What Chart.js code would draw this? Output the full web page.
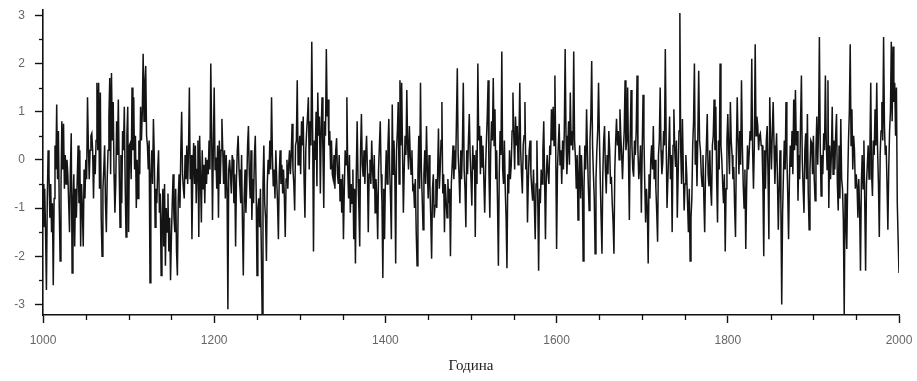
<!DOCTYPE html>
<html>
<head>
<meta charset="utf-8">
<script src="https://cdn.jsdelivr.net/npm/chart.js@4/dist/chart.umd.min.js"></script>
<style>
  html, body { margin: 0; padding: 0; background: #ffffff; }
  #wrap { width: 917px; height: 381px; position: relative; }
</style>
</head>
<body>
<div id="wrap"><canvas id="c" width="917" height="381"></canvas></div>
<script>
// ---- data ----
const firstYear = 1000;
const lastYear = 2000;
const xTickLabels = [1000, 1200, 1400, 1600, 1800, 2000];
const yTickLabels = [-3, -2, -1, 0, 1, 2, 3];
const xAxisTitle = 'Година';
// one value per year, 1000 ... 2000
const values = [
  -0.5, -1.4, -0.6, -1.5, -2.7, -0.8, 0.2, -0.3, -1.2, -0.5,
  -1.5, -0.9, -2.6, -0.8, 0.3, -0.2, 1.15, -0.4, 0.6, -1.0,
  -2.1, -0.6, 0.8, -0.2, 0.75, -0.6, 0.1, -0.5, 0.0, -0.3,
  -0.9, -1.5, -0.2, 0.55, -2.35, -0.9, -0.3, -1.8, -0.6, -1.2,
  -0.4, 0.3, -0.9, 0.2, -1.8, -0.5, -1.0, -1.8, -0.2, -0.8,
  0.0, -0.4, 1.3, 0.3, -0.4, 0.2, 0.5, 0.55, 0.2, -0.8,
  0.1, -0.3, 0.4, 1.6, 0.2, 1.6, -0.6, 1.4, -1.2, -2.0,
  -0.6, -0.2, 0.3, -0.9, -1.5, -0.4, 0.2, 0.9, 1.7, -0.3,
  1.8, 0.4, 1.2, -0.3, -1.1, -0.5, 0.8, 0.1, 1.25, -0.2,
  -1.4, 0.1, -0.9, 0.6, 0.2, 1.1, -0.5, -1.6, 0.5, 1.1,
  -1.5, 0.3, 0.35, -0.4, 1.5, 0.2, 1.3, -0.2, 0.5, -1.0,
  0.0, -0.8, 0.4, -0.3, 1.1, 0.4, 1.0, 2.2, 0.8, 1.6,
  1.95, 0.5, 0.3, -0.2, 0.4, -2.55, -0.3, 0.2, -0.5, 0.85,
  0.1, -1.4, -0.6, -0.9, -0.2, 0.2, -1.1, -0.7, -2.4, -1.3,
  -0.6, -1.8, -0.5, -2.2, -1.0, -1.5, -0.7, -1.9, -1.2, -2.5,
  -1.6, -0.9, -0.3, -1.2, -1.5, -0.6, -1.9, -2.4, -0.8, -0.3,
  -1.0, 0.2, 1.0, -0.3, -0.6, -0.8, 0.1, -0.4, 0.3, -0.5,
  0.2, 1.5, -0.4, 0.1, -1.65, -0.3, 0.35, -0.5, 0.3, -0.9,
  -0.2, 0.4, -1.6, 0.5, -0.4, -1.3, 0.2, -0.6, -0.1, -0.9,
  0.05, -0.5, 0.0, -0.3, 0.4, -0.2, 2.0, 0.6, -1.25, 0.3,
  1.5, -0.2, 0.05, -0.6, 0.3, -1.2, 0.4, -0.5, 0.2, 0.85,
  0.2, -0.5, 0.2, -0.8, 0.1, -0.6, -3.1, -0.2, 0.0, -0.3,
  -0.7, 0.1, 0.0, -0.9, -0.3, -1.8, -0.4, 0.2, 0.5, -0.2,
  -0.55, -0.9, 0.1, -1.3, -2.4, -0.8, -0.2, -1.1, -0.55, 0.3,
  0.7, -0.3, -0.8, 0.2, -1.25, -0.4, -0.9, 0.1, 0.5, -0.6,
  -2.4, -1.0, -0.8, -1.4, -0.6, -1.8, -3.2, -0.5, 0.3, -0.9,
  -1.2, -2.1, -0.5, 0.0, -0.3, 0.4, -0.2, 1.3, 0.1, -0.55,
  -0.2, -0.8, 0.2, -0.4, -0.9, -1.65, -0.3, 0.2, -0.5, -0.1,
  -0.7, -0.2, -0.8, -1.6, -0.4, 0.0, -0.6, -0.1, 0.2, -0.3,
  0.1, 0.75, -0.2, -0.5, -1.05, 0.3, 0.4, 1.65, -0.1, 0.2,
  0.5, -0.3, 0.8, 0.3, 0.9, -0.4, -1.2, 0.2, 0.6, 0.9,
  1.3, -0.2, 0.8, 0.3, 2.45, 0.6, -1.9, 0.4, 0.0, 1.0,
  -0.55, 1.4, 0.5, 0.9, -0.7, 0.6, 1.3, 0.2, -1.0, 0.8,
  0.5, 2.3, 0.9, 1.25, 0.3, 0.6, -0.2, 0.4, -0.3, -0.4,
  0.1, -0.6, 0.2, 0.45, -0.3, -0.5, 0.1, -0.85, -0.4, -1.1,
  -0.3, -1.65, -0.6, 0.2, -0.1, 1.3, -0.2, -0.8, 0.1, -1.1,
  -0.5, -0.9, -0.2, -1.65, -0.6, -2.15, -0.3, 0.8, -0.4, -1.0,
  -1.8, 0.2, 0.95, -0.1, -0.35, 0.2, -0.5, 0.1, 0.5, -0.2,
  -1.5, -0.3, 0.0, -0.5, 0.4, -0.2, -0.6, 0.1, -1.1, -0.4,
  -0.8, -1.65, -0.2, 0.3, 0.8, -0.3, -0.9, -2.45, -0.6, -1.65,
  -0.4, 0.2, -0.5, 0.3, 0.85, -0.2, -0.8, -1.65, 1.15, -0.3,
  0.4, -0.3, -2.15, 0.2, 0.6, 1.2, -0.5, 1.65, 0.3, 1.6,
  0.2, -1.1, -0.2, 0.5, 0.1, 1.45, 0.3, -0.2, 0.7, 0.1,
  -0.3, 0.2, -0.6, -0.55, -1.0, -0.4, -1.5, -2.2, -0.3, 0.5,
  -0.6, 1.6, -0.2, -0.8, -1.45, -0.3, 0.2, -0.5, 0.7, -0.2,
  -0.8, 0.1, -0.55, -1.2, -2.05, -0.6, -0.3, -1.2, -0.95, -0.4,
  -1.0, -0.3, 0.65, -0.6, -0.2, 0.4, 1.2, -0.7, -0.3, -1.5,
  -0.5, -0.85, -1.2, -0.4, -0.9, -0.6, -2.0, -0.5, -0.1, 0.3,
  -0.4, 0.2, -0.2, 0.8, 1.9, 0.1, -0.3, -0.9, 0.2, -0.4,
  0.3, 1.6, -0.2, -0.6, -1.4, 0.2, -0.3, 0.4, 0.95, 0.1,
  -0.4, -0.95, 0.3, -0.2, 0.1, -1.6, 0.2, -0.5, 2.0, 0.4,
  0.7, -0.3, 0.5, -0.15, 0.3, -0.4, -1.1, -0.2, 0.4, 0.9,
  1.65, -0.3, -1.2, 0.2, 0.8, 0.4, 1.7, 0.3, 1.05, -0.4,
  0.2, -0.9, -2.2, -0.3, 0.6, 0.1, 2.25, -0.2, -0.5, 0.4,
  -0.6, -1.2, -2.25, -0.3, -0.7, 0.2, -0.4, -0.1, 0.6, 1.4,
  0.5, -0.2, 0.9, 0.3, 0.7, -0.1, 0.4, 1.6, 0.2, -0.3,
  -0.7, 0.3, 0.5, 1.2, -0.2, 0.1, -1.3, -0.4, 0.2, 0.4,
  -0.3, -0.6, -0.85, -0.2, -0.9, -1.65, -0.5, 0.4, -0.8, -2.3,
  -0.6, -0.9, -0.2, -0.5, 0.2, 0.8, -0.4, -1.65, -0.3, 0.1,
  -0.3, -0.5, 0.3, 0.1, 1.05, 0.4, 1.1, 0.3, 1.75, 0.2,
  -1.85, -0.2, 0.3, 0.75, -0.1, 0.2, -0.5, 0.4, -0.2, 0.6,
  2.3, 0.5, -0.3, 0.2, 0.8, -0.1, 1.4, 0.3, 0.6, 0.2,
  2.25, 0.4, 0.05, -0.6, 0.1, -1.25, -0.3, 0.3, -0.8, 0.1,
  -0.4, -2.1, -0.6, 0.3, -0.2, 1.05, 0.2, -0.5, -1.05, 0.4,
  0.9, 2.05, 0.3, -0.3, -0.8, -1.95, -0.4, 0.2, 0.6, 1.6,
  0.5, -0.4, -1.2, -1.95, -0.3, 0.4, 0.7, -0.2, -0.7, 0.1,
  -0.3, 0.6, 0.2, -0.5, -0.35, -0.9, -1.3, -1.95, -0.2, 0.4,
  0.85, 0.3, 0.6, 0.0, 1.05, 0.5, 0.1, -0.4, 0.2, 0.6,
  1.65, 0.2, 0.4, 1.5, 0.0, -1.25, 0.5, 1.45, 0.3, -0.2,
  -0.35, 0.4, 0.1, 0.6, 1.75, 0.2, -0.4, -0.15, 0.3, -1.1,
  0.2, 1.35, 0.5, -0.5, -1.3, -0.6, -1.0, -2.15, -0.3, -0.8,
  0.0, 0.3, -0.2, 0.7, -0.4, 0.0, -0.6, -1.1, -1.7, 0.1,
  0.4, 1.5, 0.2, -0.3, -0.05, 0.6, 0.3, 2.3, 0.4, -1.0,
  -1.0, 0.2, 0.9, -0.4, 0.1, -1.5, 0.3, 1.05, 0.2, -0.15,
  0.4, -1.2, -0.3, 0.6, 3.05, 0.2, -0.5, 0.85, -0.2, -1.05,
  -0.5, 0.1, -0.3, -0.9, -1.5, -0.6, -2.1, -1.2, -0.8, 0.3,
  0.8, 2.0, -0.1, 0.4, -0.55, 0.5, 1.85, 0.4, 0.2, -0.3,
  -0.55, 0.1, -0.8, -1.5, -0.2, 0.3, 0.95, -0.3, -0.55, 0.2,
  -0.6, -0.95, 0.3, 0.5, 1.25, 0.2, 1.1, -0.4, -1.3, 0.4,
  -0.2, 2.0, 0.3, 0.0, -0.5, -0.9, -0.3, -1.9, -0.6, 0.4,
  0.95, 0.2, -0.3, 1.2, 0.4, 0.1, -0.4, -0.15, -1.0, -1.6,
  0.2, 1.3, 0.4, -0.3, 0.6, -0.1, 1.65, 0.3, -0.5, -1.0,
  -0.2, -1.85, -0.6, 0.3, -0.2, 0.15, 0.6, 0.4, 2.1, 0.2,
  -0.6, 0.3, 2.4, 0.5, 0.9, 0.7, 0.2, 0.5, 0.55, 0.3,
  0.3, -0.5, -2.0, 0.2, -0.6, 0.4, 0.7, -0.3, -1.65, 1.3,
  0.4, -0.2, 0.6, 1.2, 0.3, -0.5, 0.1, 0.55, -0.4, -1.45,
  -0.6, 0.2, -0.9, -3.0, -1.1, -0.3, 0.4, -0.2, 1.2, 0.1,
  -0.7, -1.65, -0.4, 0.3, -0.15, 0.6, -0.3, 1.25, 0.2, 1.45,
  0.3, 0.6, -0.85, 0.1, -0.4, 0.8, 1.75, 0.0, -0.6, -1.1,
  0.2, 0.55, -0.4, 0.95, -0.7, -1.45, -0.2, 0.4, 0.35, -0.3,
  0.5, -0.4, -0.85, 0.2, 0.9, -0.1, 0.6, 2.55, 0.3, -0.75,
  0.1, -0.3, 0.55, 0.2, 1.75, 0.4, -0.2, 1.65, -1.0, 0.3,
  -0.4, 0.1, 1.1, -0.3, 0.4, -0.2, 0.5, 0.95, -0.5, -1.05,
  0.3, -0.8, 0.85, -0.4, -0.6, -1.25, -3.2, -0.7, -1.2, -1.85,
  -0.5, 0.4, 1.0, 2.4, 0.3, 1.05, -0.2, 0.5, 0.2, -0.6,
  -0.3, -0.55, -1.2, -0.4, -1.0, -2.3, -0.5, 0.1, -0.6, 0.4,
  -0.9, -2.3, -0.5, -0.1, 0.3, -0.4, 0.2, 1.6, -0.3, -0.75,
  0.4, 0.1, 1.05, 0.3, 1.6, 0.2, -0.5, -1.6, 0.1, 0.6,
  1.2, 0.4, 2.55, 0.7, 0.1, 0.3, -0.5, -1.45, -0.2, 0.6,
  1.0, 2.45, 0.8, 2.35, 1.2, 1.6, 0.5, 1.5, -0.9, -1.65,
  -2.35
];
const years = values.map((v, i) => firstYear + i);

// ---- styling ----
const AXIS = '#111111';
const TICKTXT = '#666666';

// shorter minor tick marks, drawn from the scales' own tick positions
const minorTicks = {
  id: 'minorTicks',
  afterDraw(chart) {
    const ctx = chart.ctx;
    const xs = chart.scales.x, ys = chart.scales.y;
    ctx.save();
    ctx.strokeStyle = AXIS;
    ctx.lineWidth = 1.3;
    xs.ticks.forEach(t => {
      if (!xTickLabels.includes(t.value)) {
        const px = Math.round(xs.getPixelForValue(t.value)) + 0.5;
        ctx.beginPath();
        ctx.moveTo(px, xs.top);
        ctx.lineTo(px, xs.top + 5);
        ctx.stroke();
      }
    });
    ys.ticks.forEach(t => {
      if (!yTickLabels.includes(t.value)) {
        const py = Math.round(ys.getPixelForValue(t.value)) + 0.5;
        ctx.beginPath();
        ctx.moveTo(ys.right, py);
        ctx.lineTo(ys.right - 4, py);
        ctx.stroke();
      }
    });
    ctx.restore();
  }
};

new Chart(document.getElementById('c'), {
  type: 'line',
  data: {
    datasets: [{
      data: years.map((y, i) => ({ x: y, y: values[i] })),
      borderColor: '#141414',
      borderWidth: 1.5,
      pointRadius: 0,
      tension: 0,
      fill: false
    }]
  },
  options: {
    responsive: false,
    animation: false,
    events: [],
    layout: { padding: { left: 0, right: 18, top: 10, bottom: 0 } },
    plugins: { legend: { display: false }, tooltip: { enabled: false } },
    scales: {
      x: {
        type: 'linear',
        min: firstYear,
        max: lastYear,
        afterFit(s) { s.height = 66; s.paddingLeft = 0; s.paddingRight = 0; },
        border: { display: true, color: AXIS, width: 1.6 },
        grid: {
          drawOnChartArea: false,
          drawTicks: true,
          tickLength: 8,
          tickWidth: 1.4,
          tickColor: c => xTickLabels.includes(c.tick.value) ? AXIS : 'rgba(0,0,0,0)'
        },
        ticks: {
          stepSize: 50,
          autoSkip: false,
          maxRotation: 0,
          includeBounds: false,
          padding: 10,
          color: TICKTXT,
          font: { family: 'Liberation Sans, Arial, sans-serif', size: 12 },
          callback: v => xTickLabels.includes(v) ? String(v) : ''
        },
        title: {
          display: true,
          text: xAxisTitle,
          color: '#222222',
          font: { family: 'Liberation Serif, Times New Roman, serif', size: 15 },
          padding: { top: 0, bottom: 6 }
        }
      },
      y: {
        type: 'linear',
        min: -3.22,
        max: 3.11,
        afterFit(s) { s.width = 43; s.paddingTop = 0; s.paddingBottom = 0; },
        border: { display: true, color: AXIS, width: 1.6 },
        grid: {
          drawOnChartArea: false,
          drawTicks: true,
          tickLength: 8,
          tickWidth: 1.4,
          tickColor: c => yTickLabels.includes(c.tick.value) ? AXIS : 'rgba(0,0,0,0)'
        },
        afterBuildTicks(s) {
          s.ticks = s.ticks.filter(t => Math.abs(t.value * 2 - Math.round(t.value * 2)) < 1e-9);
        },
        ticks: {
          stepSize: 0.5,
          autoSkip: false,
          includeBounds: false,
          padding: 10,
          color: TICKTXT,
          font: { family: 'Liberation Sans, Arial, sans-serif', size: 12 },
          callback: v => yTickLabels.includes(v) ? String(v) : ''
        }
      }
    }
  },
  plugins: [minorTicks]
});
</script>
</body>
</html>
